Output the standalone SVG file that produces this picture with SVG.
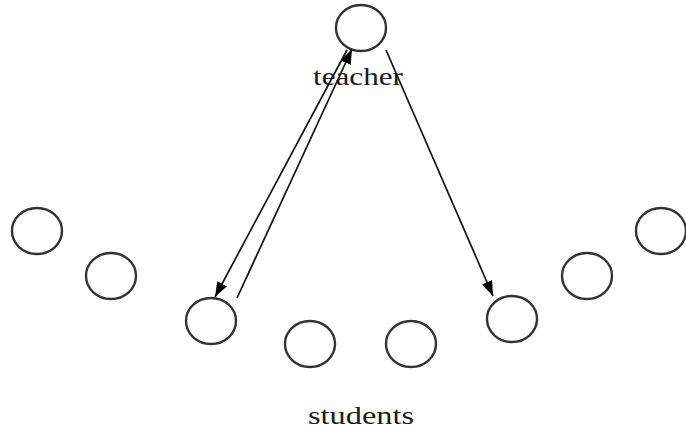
<svg xmlns="http://www.w3.org/2000/svg" width="686" height="429" viewBox="0 0 686 429">
<style>
.n{fill:none;stroke:#333;stroke-width:2.4}
.c{stroke:#111;stroke-width:1.7;fill:none}
.t{font-family:"Liberation Serif","Times New Roman",serif;font-size:26px;fill:#1a1a1a}
</style>
<defs>
<marker id="ah" viewBox="0 0 15 11" refX="15" refY="5.5" markerWidth="15" markerHeight="11" markerUnits="userSpaceOnUse" orient="auto">
<path d="M0,0 L15,5.5 L0,11 z" fill="#000"/>
</marker>
</defs>
<rect width="686" height="429" fill="#fff"/>
<g id="teacher"><ellipse class="n" cx="361" cy="28" rx="25" ry="23"/><text class="t" x="313" y="85" textLength="90" lengthAdjust="spacingAndGlyphs">teacher</text></g>
<g id="s1"><ellipse class="n" cx="37" cy="231" rx="25" ry="23"/></g>
<g id="s2"><ellipse class="n" cx="111" cy="276" rx="25" ry="23"/></g>
<g id="s3"><ellipse class="n" cx="211" cy="321" rx="25" ry="23"/></g>
<g id="s4"><ellipse class="n" cx="310" cy="344" rx="25" ry="23"/></g>
<g id="s5"><ellipse class="n" cx="411" cy="344" rx="25" ry="23"/></g>
<g id="s6"><ellipse class="n" cx="512" cy="319" rx="25" ry="23"/></g>
<g id="s7"><ellipse class="n" cx="587" cy="276" rx="25" ry="23"/></g>
<g id="s8"><ellipse class="n" cx="661" cy="231" rx="25" ry="23"/></g>
<g id="students-label"><text class="t" x="308" y="424" textLength="106" lengthAdjust="spacingAndGlyphs">students</text></g>
<g id="connectors">
<line class="c" x1="237" y1="298" x2="352" y2="49" marker-end="url(#ah)"/>
<line class="c" x1="347" y1="50" x2="215" y2="297" marker-end="url(#ah)"/>
<line class="c" x1="386" y1="50" x2="493" y2="296" marker-end="url(#ah)"/>
</g>
</svg>
